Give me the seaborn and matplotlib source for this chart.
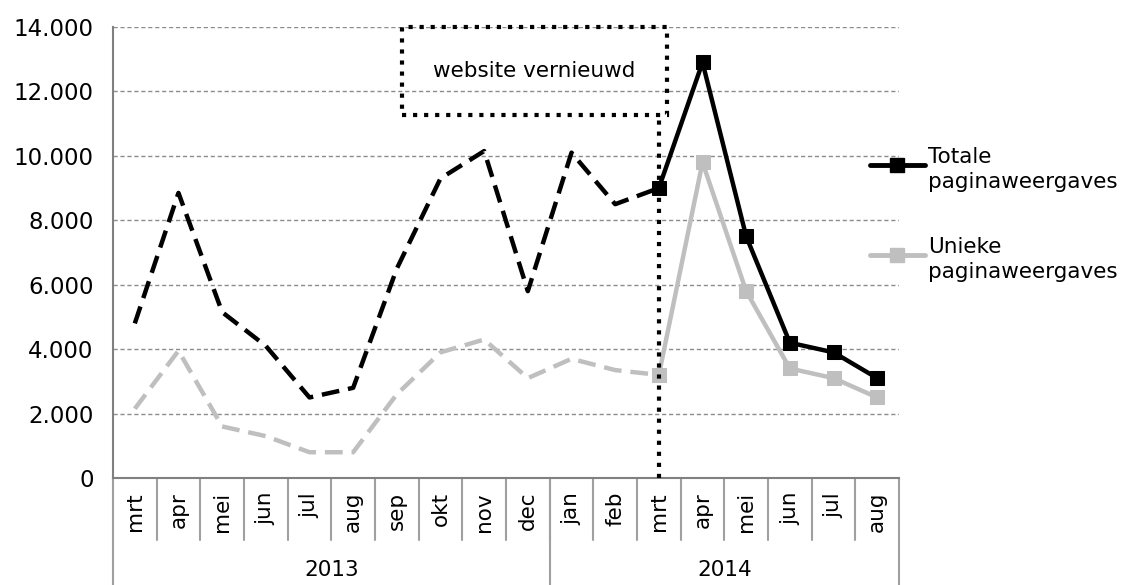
import matplotlib.pyplot as plt
import matplotlib.ticker as mticker
from matplotlib.patches import Rectangle
from matplotlib.lines import Line2D
import numpy as np
import pandas as pd
import seaborn as sns

months = ['mrt', 'apr', 'mei', 'jun', 'jul', 'aug', 'sep', 'okt', 'nov', 'dec',
          'jan', 'feb', 'mrt', 'apr', 'mei', 'jun', 'jul', 'aug']
years = ['2013', '2014']
year_counts = [10, 8]
totale = [4800, 8850, 5150, 4100, 2500, 2800, 6500, 9300, 10150, 5800,
          10100, 8500, 9000, 12900, 7500, 4200, 3900, 3100]
unieke = [2150, 3950, 1600, 1300, 800, 800, 2600, 3900, 4300, 3100,
          3700, 3350, 3200, 9800, 5800, 3400, 3100, 2500]
labels = ['Totale\npaginaweergaves', 'Unieke\npaginaweergaves']
split = 12  # website vernieuwd in mrt 2014

sns.set_style('white')
plt.rcParams['font.family'] = ['DejaVu Sans']
plt.rcParams['text.color'] = 'black'
plt.rcParams['xtick.color'] = 'black'
plt.rcParams['ytick.color'] = 'black'

df = pd.DataFrame({'pos': np.arange(len(months)), 'maand': months,
                   'Totale': totale, 'Unieke': unieke})
before = df[df['pos'] <= split]
after = df[df['pos'] >= split]

fig = plt.figure(figsize=(11.33, 5.85), dpi=100)
ax = fig.add_axes([0.0997, 0.1829, 0.6938, 0.7709])

grey = '#bfbfbf'
sns.lineplot(data=before, x='pos', y='Unieke', ax=ax, color=grey, lw=3.2,
             dashes=False, linestyle=(0, (4, 2)))
sns.lineplot(data=before, x='pos', y='Totale', ax=ax, color='black', lw=3.2,
             dashes=False, linestyle=(0, (4, 2)))
sns.lineplot(data=after, x='pos', y='Unieke', ax=ax, color=grey, lw=3.2,
             marker='s', markersize=10, markeredgecolor=grey)
sns.lineplot(data=after, x='pos', y='Totale', ax=ax, color='black', lw=3.2,
             marker='s', markersize=10, markeredgecolor='black')

ax.set_xlim(-0.5, len(months) - 0.5)
ax.set_ylim(0, 14000)
ax.set_yticks(np.arange(0, 14001, 2000))
ax.yaxis.set_major_formatter(mticker.FuncFormatter(
    lambda v, p: f'{int(v):,}'.replace(',', '.')))
ax.grid(axis='y', color='#8c8c8c', linestyle=(0, (3, 2)), lw=1)
ax.set_axisbelow(True)
for s in ['top', 'right']:
    ax.spines[s].set_visible(False)
for s in ['left', 'bottom']:
    ax.spines[s].set_color('#808080')
    ax.spines[s].set_linewidth(1.5)
ax.tick_params(axis='y', length=8, color='#808080', labelsize=16.5, pad=6)
ax.set_xlabel('')
ax.set_ylabel('')

# category labels, rotated
ax.set_xticks(np.arange(len(months)))
ax.set_xticklabels(months, rotation=90, fontsize=15.5)
ax.tick_params(axis='x', length=0, pad=10)

# separators under the axis
trans = ax.get_xaxis_transform()
for i in range(1, len(months)):
    ax.plot([i - 0.5, i - 0.5], [0, -0.137], transform=trans, color='#a0a0a0',
            lw=1.5, clip_on=False)
start = 0
bounds = [-0.5]
for yr, n in zip(years, year_counts):
    ax.text(start + n / 2 - 0.5, -0.205, yr, transform=trans, ha='center',
            va='center', fontsize=15.5)
    start += n
    bounds.append(start - 0.5)
for b in bounds:
    ax.plot([b, b], [0, -0.24], transform=trans, color='#a0a0a0', lw=1.5,
            clip_on=False)

# annotation box
ax.add_patch(Rectangle((6.12, 11280), 6.07, 14000 - 11280, fill=False,
                       linestyle=':', lw=3, edgecolor='black', clip_on=False,
                       zorder=5))
ax.text(9.15, 12650, 'website vernieuwd', ha='center', va='center',
        fontsize=15.5)
ax.plot([split, split], [0, 11280], color='black', linestyle=':', lw=3,
        zorder=5)

# legend, handle aligned with the first text line as in the original
for lab, col, ypix in zip(labels, ['black', grey], [165, 255]):
    yf = 1 - ypix / 585
    fig.add_artist(Line2D([870 / 1133, 925 / 1133], [yf, yf], color=col,
                          lw=3.5, solid_capstyle='round'))
    fig.add_artist(Line2D([897 / 1133], [yf], color=col, marker='s',
                          markersize=10, lw=0))
    fig.text(928 / 1133, yf + 18 / 585, lab, ha='left', va='top',
             fontsize=15.5, linespacing=1.3)

fig.savefig('out.png', dpi=100)
